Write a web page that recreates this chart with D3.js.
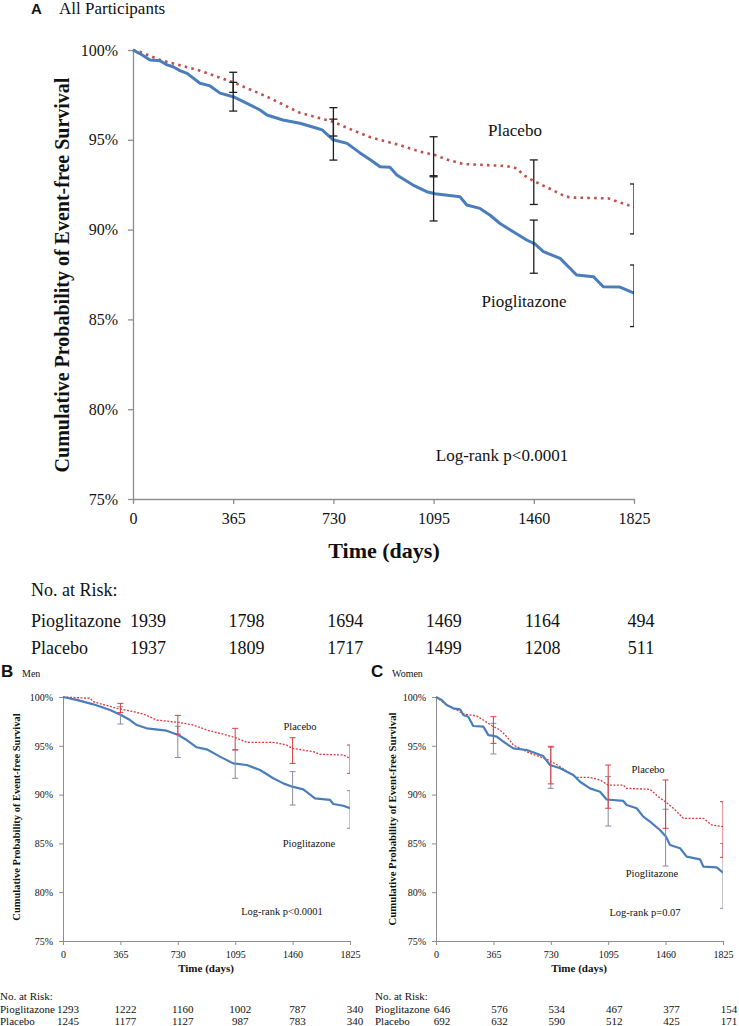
<!DOCTYPE html>
<html><head><meta charset="utf-8">
<script src="https://cdn.jsdelivr.net/npm/d3@7"></script>
<style>
body{margin:0;background:#fff}
svg{display:block}
text{font-family:"Liberation Serif","Times New Roman",serif;fill:#111}
</style>
</head><body>
<svg id="c" width="739" height="1026"></svg>
<script>
// ---------- shared ----------
const tickDays = [0, 365, 730, 1095, 1460, 1825];
const yTickVals = [75, 80, 85, 90, 95, 100];
const groups = ["Pioglitazone", "Placebo"];
const ciDays = [365, 730, 1095, 1460, 1825];

// ---------- Panel A: All Participants ----------
const aPioDays = [0,25,62,98,124,146,171,197,244,281,317,365,415,463,488,546,608,670,689,729,780,827,863,900,936,961,1020,1070,1100,1191,1216,1264,1301,1337,1385,1434,1464,1495,1556,1616,1677,1713,1774,1825];
const aPioSurv = [100,99.8,99.44,99.4,99.17,99.07,98.85,98.7,98.15,98.0,97.6,97.4,97.03,96.66,96.38,96.1,95.92,95.64,95.55,95.0,94.8,94.27,93.9,93.5,93.47,93.04,92.48,92.11,92.0,91.83,91.37,91.18,90.8,90.34,89.88,89.42,89.2,88.77,88.4,87.47,87.38,86.82,86.8,86.46];
const aPlaDays = [0,25,98,244,365,488,608,730,790,863,973,1045,1100,1143,1203,1361,1400,1420,1460,1515,1577,1610,1730,1825];
const aPlaSurv = [100,99.9,99.45,98.85,98.2,97.4,96.5,96.0,95.6,95.15,94.7,94.34,94.15,93.9,93.65,93.54,93.4,93.06,92.7,92.3,91.83,91.78,91.74,91.25];
const aPioLo = [96.6, 93.87, 90.48, 87.57, 84.6];
const aPioHi = [98.2, 96.15, 93.0, 90.53, 88.03];
const aPlaLo = [97.64, 95.21, 92.94, 91.4, 89.76];
const aPlaHi = [98.76, 96.79, 95.17, 93.88, 92.54];
const aRiskPio = [1939, 1798, 1694, 1469, 1164, 494];
const aRiskPla = [1937, 1809, 1717, 1499, 1208, 511];

// ---------- Panel B: Men ----------
const bPioDays = [0,87,193,299,369,426,469,532,659,733,787,850,914,998,1083,1168,1253,1337,1401,1458,1528,1602,1698,1719,1782,1825];
const bPioSurv = [100,99.7,99.25,98.67,98.16,97.64,97.13,96.79,96.55,96.1,95.59,94.85,94.64,93.89,93.2,93.03,92.52,91.67,91.15,90.81,90.54,89.62,89.45,89.04,88.86,88.6];
const bPlaDays = [0,172,193,341,447,511,596,733,829,914,1041,1098,1168,1337,1422,1458,1592,1634,1782,1825];
const bPlaSurv = [100,99.87,99.52,98.84,98.5,98.26,97.64,97.4,97.13,96.62,96.1,95.83,95.36,95.36,95.08,94.74,94.4,94.13,94.06,93.72];
const bPioLo = [97.23, 93.8, 91.67, 88.93, 86.55];
const bPioHi = [99.0, 97.0, 94.6, 92.35, 90.4];
const bPlaLo = [98.4, 96.2, 94.57, 93.2, 92.18];
const bPlaHi = [99.35, 98.12, 96.79, 95.83, 95.08];
const bRiskPio = [1293, 1222, 1160, 1002, 787, 340];
const bRiskPla = [1245, 1177, 1127, 987, 783, 340];

// ---------- Panel C: Women ----------
const cPioDays = [0,36,68,110,153,174,205,237,301,333,358,386,428,492,577,682,725,789,873,916,979,1043,1085,1191,1212,1276,1318,1361,1424,1463,1488,1552,1594,1679,1700,1785,1825];
const cPioSurv = [100,99.7,99.18,98.84,98.74,98.16,97.98,97.03,96.96,96.1,96.04,95.94,95.42,94.74,94.57,93.95,93.03,92.7,92.0,91.32,90.64,90.3,89.5,89.35,88.93,88.6,87.74,87.23,86.37,85.69,84.84,84.5,83.64,83.37,82.62,82.55,82.0];
const cPlaDays = [0,68,131,174,259,301,358,407,449,492,534,598,661,725,789,852,895,979,1043,1094,1191,1212,1361,1414,1458,1509,1573,1700,1753,1825];
const cPlaSurv = [100,99.18,98.67,98.26,98.05,97.64,97.03,96.62,95.94,95.08,94.74,94.23,93.88,93.47,92.86,92.18,91.77,91.77,91.5,90.98,90.98,90.64,90.54,89.78,89.27,88.6,87.57,87.57,86.89,86.71];
const cPioLo = [94.16, 90.64, 86.78, 82.68, 78.35];
const cPioHi = [97.3, 94.85, 91.84, 88.5, 85.0];
const cPlaLo = [95.25, 91.1, 88.6, 86.55, 83.57];
const cPlaHi = [97.98, 94.95, 93.03, 91.5, 89.27];
const cRiskPio = [646, 576, 534, 467, 377, 154];
const cRiskPla = [692, 632, 590, 512, 425, 171];

const svg = d3.select("#c");
const SERIF = '"Liberation Serif","Times New Roman",serif';
const SANS = '"Liberation Sans",Arial,sans-serif';

function drawPanel(o) {
  const x = d3.scaleLinear().domain([0, 1825]).range([o.left, o.right]);
  const y = d3.scaleLinear().domain([75, 100]).range([o.bottom, o.top]);
  const g = svg.append("g");
  const clipId = "clip" + o.id;
  svg.append("clipPath").attr("id", clipId).append("rect")
    .attr("x", o.left - 20).attr("y", o.top - 30)
    .attr("width", o.right - o.left + 20).attr("height", o.bottom - o.top + 60);

  // panel title
  g.append("text").attr("x", o.letterX).attr("y", o.titleY)
    .style("font-family", SANS).style("font-weight", "bold").style("font-size", o.letterSize + "px").text(o.letter);
  g.append("text").attr("x", o.titleX).attr("y", o.titleY)
    .style("font-size", o.titleSize + "px").text(o.title);

  // axes
  const yAxis = d3.axisLeft(y).tickValues(yTickVals).tickFormat(d => d + "%")
    .tickSize(o.tick).tickSizeOuter(0).tickPadding(o.yPad);
  const ya = g.append("g").attr("transform", `translate(${o.left},0)`).call(yAxis);
  const xAxis = d3.axisBottom(x).tickValues(tickDays).tickFormat(d3.format("d"))
    .tickSize(o.tick).tickSizeOuter(0).tickPadding(o.xPad);
  const xa = g.append("g").attr("transform", `translate(0,${o.bottom})`).call(xAxis);
  [ya, xa].forEach(a => {
    a.attr("font-family", SERIF).attr("font-size", o.tickFont);
    a.select(".domain").attr("stroke", "#8e8e8e").attr("stroke-width", o.axisW);
    a.selectAll(".tick line").attr("stroke", "#8e8e8e").attr("stroke-width", o.axisW);
    a.selectAll(".tick text").attr("fill", "#1a1a1a");
  });

  // axis titles
  g.append("text").attr("transform", `translate(${o.yTitleX},${o.yTitleY}) rotate(-90)`)
    .attr("text-anchor", "middle").style("font-weight", "bold").style("font-size", o.yTitleSize + "px")
    .text("Cumulative Probability of Event-free Survival");
  g.append("text").attr("x", o.xTitleX).attr("y", o.xTitleY).attr("text-anchor", "middle")
    .style("font-weight", "bold").style("font-size", o.xTitleSize + "px").text("Time (days)");

  // curves
  const cg = g.append("g").attr("clip-path", `url(#${clipId})`);
  const line = d3.line().x(d => x(d[0])).y(d => y(d[1])).curve(d3.curveLinear);
  cg.append("path").datum(d3.zip(o.plaDays, o.plaSurv))
    .attr("d", line).attr("fill", "none")
    .attr("stroke", o.plaColor).attr("stroke-width", o.plaW).attr("stroke-dasharray", o.plaDash);
  cg.append("path").datum(d3.zip(o.pioDays, o.pioSurv))
    .attr("d", line).attr("fill", "none")
    .attr("stroke", "#4a7ebb").attr("stroke-width", o.pioW).attr("stroke-linejoin", "round");

  // error bars (pioglitazone first, placebo on top)
  function bars(lo, hi, color) {
    const eg = cg.append("g").attr("stroke", color).attr("stroke-width", o.barW);
    ciDays.forEach((dd, i) => {
      const xx = x(dd);
      eg.append("line").attr("x1", xx).attr("x2", xx).attr("y1", y(lo[i])).attr("y2", y(hi[i]));
      [lo[i], hi[i]].forEach(v => eg.append("line").attr("x1", xx - o.cap).attr("x2", xx + o.cap).attr("y1", y(v)).attr("y2", y(v)));
    });
  }
  bars(o.pioLo, o.pioHi, o.pioBar);
  bars(o.plaLo, o.plaHi, o.plaBar);

  // curve labels
  o.labels.forEach(l => g.append("text").attr("x", l[1]).attr("y", l[2]).attr("text-anchor", "middle")
    .style("font-size", o.labelSize + "px").text(l[0]));

  // risk table
  const tx = d3.scaleLinear().domain([0, 1825]).range(o.riskRange);
  g.append("text").attr("x", o.riskX).attr("y", o.riskY[0]).style("font-size", o.riskSize + "px").text("No. at Risk:");
  [o.riskPio, o.riskPla].forEach((arr, r) => {
    g.append("text").attr("x", o.riskX).attr("y", o.riskY[r + 1]).style("font-size", o.riskSize + "px").text(groups[r]);
    arr.forEach((v, i) => g.append("text").attr("x", tx(tickDays[i])).attr("y", o.riskY[r + 1])
      .attr("text-anchor", "middle").style("font-size", o.riskSize + "px").text(v));
  });
}

drawPanel({
  id: "A", left: 133, right: 634, top: 50, bottom: 499,
  letter: "A", letterX: 31, letterSize: 15, title: "All Participants", titleX: 59, titleY: 14, titleSize: 17,
  tick: 5, yPad: 10, xPad: 9, tickFont: 16, axisW: 1.3,
  yTitleX: 69, yTitleY: 275, yTitleSize: 20, xTitleX: 384, xTitleY: 558, xTitleSize: 22,
  pioDays: aPioDays, pioSurv: aPioSurv, plaDays: aPlaDays, plaSurv: aPlaSurv,
  plaColor: "#c0504d", plaW: 2.6, plaDash: "2.6 4.2", pioW: 3,
  pioLo: aPioLo, pioHi: aPioHi, plaLo: aPlaLo, plaHi: aPlaHi,
  pioBar: "#1e1e1e", plaBar: "#1e1e1e", barW: 1.3, cap: 4,
  labels: [["Placebo", 515, 136], ["Pioglitazone", 524, 307], ["Log-rank  p<0.0001", 502, 461]], labelSize: 17,
  riskRange: [148, 641], riskX: 31, riskY: [596, 627, 654], riskSize: 18,
  riskPio: aRiskPio, riskPla: aRiskPla
});

drawPanel({
  id: "B", left: 63, right: 350, top: 697, bottom: 941,
  letter: "B", letterX: 1, letterSize: 17, title: "Men", titleX: 22, titleY: 677, titleSize: 10,
  tick: 4, yPad: 6, xPad: 6, tickFont: 10, axisW: 1,
  yTitleX: 20, yTitleY: 817, yTitleSize: 10.5, xTitleX: 206, xTitleY: 972, xTitleSize: 11,
  pioDays: bPioDays, pioSurv: bPioSurv, plaDays: bPlaDays, plaSurv: bPlaSurv,
  plaColor: "#e0393e", plaW: 1.3, plaDash: "2 1.5", pioW: 2.2,
  pioLo: bPioLo, pioHi: bPioHi, plaLo: bPlaLo, plaHi: bPlaHi,
  pioBar: "#8a8aa0", plaBar: "#e0393e", barW: 1, cap: 3,
  labels: [["Placebo", 300, 730], ["Pioglitazone", 309, 847], ["Log-rank  p<0.0001", 282, 915]], labelSize: 10.5,
  riskRange: [68, 355], riskX: 0, riskY: [1000, 1012.5, 1024.5], riskSize: 11,
  riskPio: bRiskPio, riskPla: bRiskPla
});

drawPanel({
  id: "C", left: 436, right: 723, top: 697, bottom: 941,
  letter: "C", letterX: 371, letterSize: 17, title: "Women", titleX: 392, titleY: 677, titleSize: 10,
  tick: 4, yPad: 6, xPad: 6, tickFont: 10, axisW: 1,
  yTitleX: 396, yTitleY: 819, yTitleSize: 10.8, xTitleX: 579, xTitleY: 972, xTitleSize: 11,
  pioDays: cPioDays, pioSurv: cPioSurv, plaDays: cPlaDays, plaSurv: cPlaSurv,
  plaColor: "#e0393e", plaW: 1.3, plaDash: "2 1.5", pioW: 2.2,
  pioLo: cPioLo, pioHi: cPioHi, plaLo: cPlaLo, plaHi: cPlaHi,
  pioBar: "#8a8aa0", plaBar: "#e0393e", barW: 1, cap: 3,
  labels: [["Placebo", 648, 773], ["Pioglitazone", 652, 877], ["Log-rank  p=0.07", 645, 916]], labelSize: 10.5,
  riskRange: [442, 729], riskX: 375, riskY: [1000, 1012.5, 1024.5], riskSize: 11,
  riskPio: cRiskPio, riskPla: cRiskPla
});
</script>
</body></html>
